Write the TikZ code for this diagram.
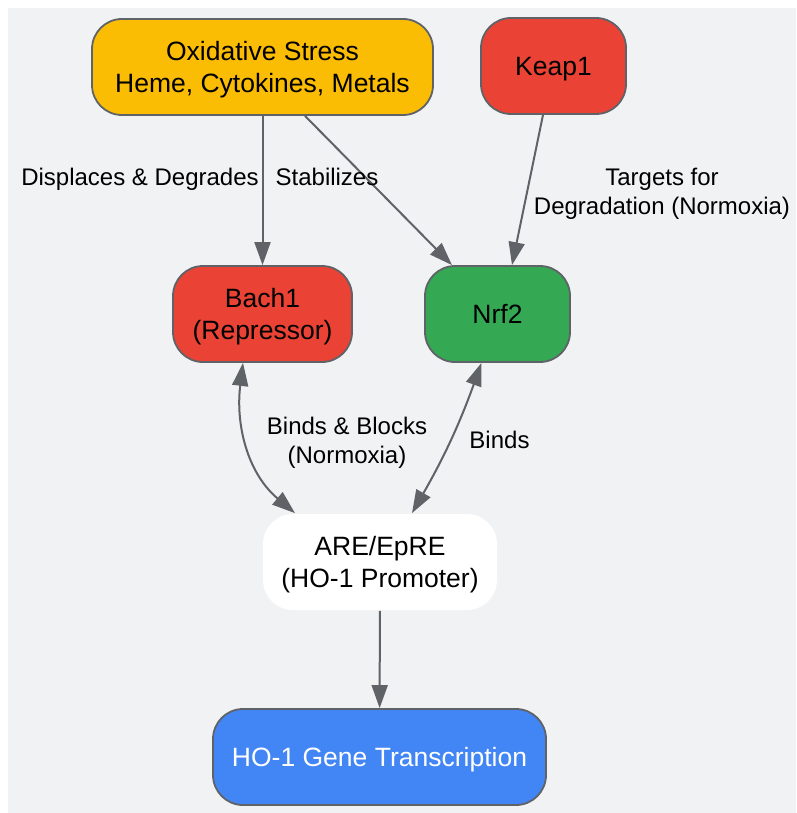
\documentclass[tikz,border=0pt]{standalone}
\usepackage{fontspec}
\setmainfont{Liberation Sans}
\usepackage{xcolor}
\usetikzlibrary{arrows.meta, positioning}

\definecolor{bgGrey}{HTML}{F1F2F4}
\definecolor{edgeGrey}{HTML}{5F6368}
\definecolor{stressYellow}{HTML}{FBBC04}
\definecolor{proRed}{HTML}{EA4335}
\definecolor{nrfGreen}{HTML}{34A853}
\definecolor{geneBlue}{HTML}{4285F4}

\begin{document}
\begin{tikzpicture}[x=1pt, y=-1pt,
    block/.style={rectangle, rounded corners=30pt, draw=edgeGrey, line width=1.8pt, minimum height=96pt, align=center, inner sep=0pt, text height=19pt, text depth=0pt, font=\fontsize{26.5}{32}\selectfont},
    twoline/.style={text height=51pt},
    lbl/.style={align=center, inner sep=0pt, text height=17.2pt, text depth=0pt, font=\fontsize{24}{29}\selectfont},
    lbltwo/.style={text height=46.2pt},
    arrow/.style={edgeGrey, line width=2pt, -{Triangle[length=23pt, width=16pt]}},
    twoway/.style={edgeGrey, line width=2pt, {Triangle[length=23pt, width=16pt]}-{Triangle[length=23pt, width=16pt]}}]

    % Canvas
    \fill[white] (0,0) rectangle (796,813);
    \fill[bgGrey] (8,8) rectangle (796,813);
    \useasboundingbox (0,0) rectangle (796,813);

    % Signals
    \node [block, twoline, fill=stressYellow, minimum width=341pt] (stress) at (262.5,67) {Oxidative Stress\\Heme, Cytokines, Metals};
    \node [block, fill=proRed, minimum width=145pt] (keap) at (553.5,66) {Keap1};

    % Transcription factors
    \node [block, twoline, fill=proRed, minimum width=179pt] (bach) at (262.5,314) {Bach1\\(Repressor)};
    \node [block, fill=nrfGreen, minimum width=145pt] (nrf) at (497.5,314) {Nrf2};

    % Promoter and output
    \node [block, twoline, fill=white, draw=none, minimum width=234pt] (are) at (380,562) {ARE/EpRE\\(HO-1 Promoter)};
    \node [block, fill=geneBlue, text=white, minimum width=333pt] (gene) at (379.5,757) {HO-1 Gene Transcription};

    % Arrows
    \draw [arrow] (stress) -- (bach);
    \draw [arrow] ([xshift=42.5pt]stress.south) -- ([xshift=-45.5pt]nrf.north);
    \draw [arrow] ([xshift=-10.5pt]keap.south) -- ([xshift=14.5pt]nrf.north);
    \draw [twoway] ([xshift=-19.5pt]bach.south) to[out=-97, in=140] ([xshift=-85pt]are.north);
    \draw [twoway] ([xshift=-16pt]nrf.south) to[bend left=5] ([xshift=32pt]are.north);
    \draw [arrow] (are) -- (gene);

    % Labels
    \node [lbl] (displaces) at (140,177) {Displaces \& Degrades};
    \node [lbl] (stabilizes) at (327,177) {Stabilizes};
    \node [lbl, lbltwo] (targets) at (662,191) {Targets for\\Degradation (Normoxia)};
    \node [lbl, lbltwo] (blocks) at (347,440) {Binds \& Blocks\\(Normoxia)};
    \node [lbl] (binds) at (499.5,440) {Binds};
\end{tikzpicture}
\end{document}
